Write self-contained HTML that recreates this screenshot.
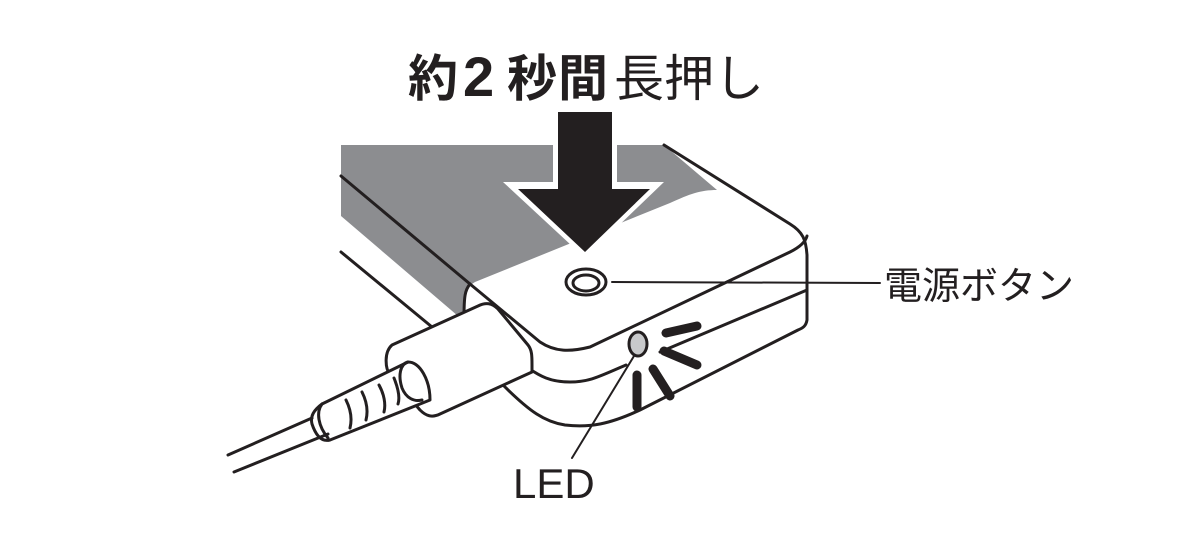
<!DOCTYPE html>
<html><head><meta charset="utf-8"><style>
html,body{margin:0;padding:0;background:#fff;width:1200px;height:554px;overflow:hidden}
svg{display:block}
</style></head><body>
<svg width="1200" height="554" viewBox="0 0 1200 554" xmlns="http://www.w3.org/2000/svg">
<g font-family="'Liberation Sans','Noto Sans CJK JP',sans-serif" fill="#231f20">
<text x="408" y="96" font-size="50" font-weight="bold">約</text>
<text x="463" y="96" font-size="56" font-weight="bold">2</text>
<text x="507" y="96" font-size="50" font-weight="bold">秒</text>
<text x="558" y="96" font-size="50" font-weight="bold">間</text>
<text x="614" y="96" font-size="50">長押し</text>
<text x="884" y="299" font-size="38">電源ボタン</text>
<text x="513" y="498" font-size="42">LED</text>
</g>
<!-- gray body -->
<path d="M341,145 L664,145 L717,190 C700,190 690,194 670,203 L475,282 C468,286 465,292 465,300 L465,314 L458,316 L341,216 Z" fill="#8c8d90"/>
<g fill="none" stroke="#231f20" stroke-width="3" stroke-linejoin="round" stroke-linecap="round">
<path d="M341,176 L470,284"/>
<path d="M341,252 L432,327"/>
<path d="M664,145 L790,224 C803,232 806,240 807,255 L807,320 C806,326 803,328 798,330 L640,410 C610,424 590,428 565,425 C545,422 530,412 502,384"/>
<path d="M470,284 L540,342 C555,352 570,352 590,347 L790,252 C802,246 806,240 807,236"/>
<path d="M470,284 C465,290 464,296 464,318"/>
<path d="M807,290 L660,352"/>
<path d="M626,365 C600,376 590,382 570,382 C550,382 540,376 528,368"/>
<ellipse cx="586" cy="282" rx="20" ry="13"/>
<ellipse cx="586" cy="283" rx="13" ry="8"/>
<path d="M612,282 L880,283" stroke-width="2"/>
<ellipse cx="638" cy="344" rx="9" ry="12" fill="#c8c9cb"/>
<path d="M634,356 L572,458" stroke-width="2"/>
<!-- connector -->
<path d="M392,345 L478,306 C486,302 492,303 498,309 L528,345 C532,350 532,356 532,365 L532,372 L440,414 C432,418 426,416 420,410 L390,375 C385,368 384,352 392,345 Z" fill="#fff"/>
<!-- strain relief -->
<path d="M408,362 C420,362 430,380 430,400 L330,440 C322,442 316,436 312,424 C310,416 314,410 322,404 Z" fill="#fff"/>
<path d="M408,362 C400,364 398,376 402,388 C406,398 414,402 422,400"/>
<path d="M322,404 C316,412 318,426 328,438"/>
<path d="M346,400 C351,410 352,420 350,428 M362,392 C367,402 368,412 366,420 M379,385 C384,394 386,404 384,412 M394,378 C398,388 400,398 398,404"/>
<!-- cable -->
<path d="M312,418 L228,455"/>
<path d="M328,434 L234,472"/>
</g>
<g stroke="#231f20" stroke-width="9" stroke-linecap="round" fill="none">
<path d="M666,333 L697,326"/>
<path d="M664,351 L697,365"/>
<path d="M653,369 L670,396"/>
<path d="M637,375 L637,407"/>
</g>
<path d="M553,112 L617,112 L617,182 L664,182 L585,258 L503,182 L553,182 Z" fill="#fff"/>
<path d="M558,112 L612,112 L612,189 L650,189 L585,252 L518,189 L558,189 Z" fill="#231f20"/>
</svg>
</body></html>
